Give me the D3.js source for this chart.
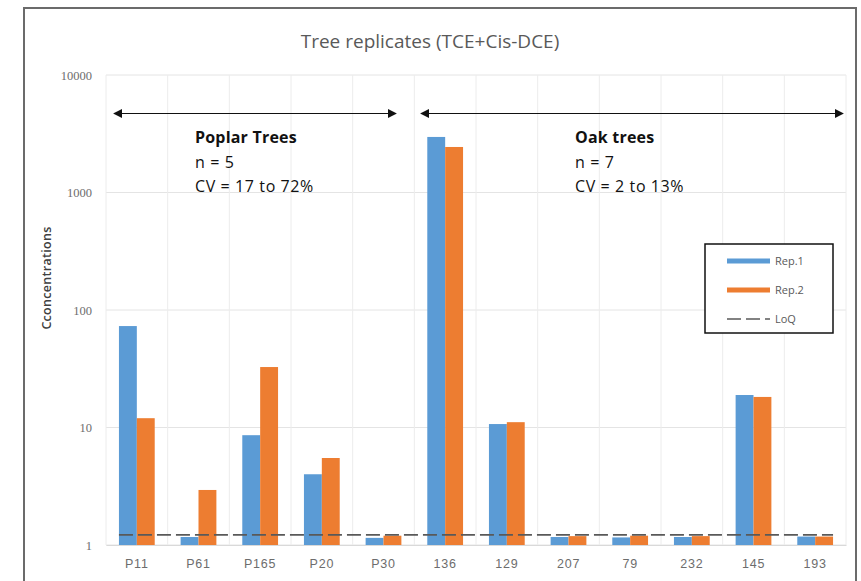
<!DOCTYPE html>
<html><head><meta charset="utf-8">
<script src="https://cdn.jsdelivr.net/npm/d3@7"></script>
<style>body{margin:0;background:#fff;}svg{display:block;font-family:"Open Sans","Liberation Sans",sans-serif;}</style>
</head><body>
<svg id="c" width="861" height="581"></svg>
<script>
const categories = ["P11","P61","P165","P20","P30","136","129","207","79","232","145","193"];
const rep1 = [73, 1.17, 8.6, 4.0, 1.15, 2970, 10.7, 1.17, 1.16, 1.17, 18.9, 1.18];
const rep2 = [12, 2.94, 32.7, 5.5, 1.2, 2440, 11.1, 1.19, 1.2, 1.19, 18.2, 1.18];
const loq = 1.22;
const yTicks = [1, 10, 100, 1000, 10000];
const seriesNames = ["Rep.1", "Rep.2", "LoQ"];
const groups = [
  {from: 0, to: 4, lines: ["Poplar Trees", "n = 5", "CV = 17 to 72%"]},
  {from: 5, to: 11, lines: ["Oak trees", "n = 7", "CV = 2 to 13%"]}
];

const svg = d3.select("#c");
const L = 106, R = 846, T = 75, B = 545;
const blue = "#5B9BD5", orange = "#ED7D31";

svg.append("rect").attr("x", 24).attr("y", 8).attr("width", 832).attr("height", 600)
  .attr("fill", "#fff").attr("stroke", "#6b6b6b").attr("stroke-width", 2);

const x = d3.scaleBand().domain(categories).range([L, R]).paddingInner(0).paddingOuter(0);
const y = d3.scaleLog().domain([1, 10000]).range([B, T]);

// horizontal grid
svg.append("g").selectAll("line").data(yTicks).join("line")
  .attr("x1", L).attr("x2", R).attr("y1", d => y(d)).attr("y2", d => y(d))
  .attr("stroke", "#e4e4e4").attr("stroke-width", 1);
// vertical grid
svg.append("g").selectAll("line").data(d3.range(categories.length + 1)).join("line")
  .attr("x1", i => L + i * x.bandwidth()).attr("x2", i => L + i * x.bandwidth())
  .attr("y1", T).attr("y2", B).attr("stroke", "#ececec").attr("stroke-width", 1);

// y axis
const yAxis = d3.axisLeft(y).tickValues(yTicks).tickFormat(d3.format("d")).tickSize(0).tickPadding(14);
const ya = svg.append("g").attr("transform", `translate(${L},0)`).call(yAxis);
ya.select(".domain").remove();
ya.selectAll("text").attr("fill", "#6d6d6d").style("font-size", "12.5px").style("font-family", "Liberation Serif, serif");

// x axis
const xAxis = d3.axisBottom(x).tickSize(0).tickPadding(14);
const xa = svg.append("g").attr("transform", `translate(0,${B})`).call(xAxis);
xa.select(".domain").attr("stroke", "#d9d9d9");
xa.selectAll("text").attr("fill", "#6d6d6d").style("font-size", "12.5px").style("letter-spacing", "0.8px");

// bars
const bw = x.bandwidth() * 0.29;
const gx = d => x(d) + x.bandwidth() / 2;
svg.append("g").selectAll("rect").data(categories).join("rect")
  .attr("x", d => gx(d) - bw).attr("width", bw)
  .attr("y", (d, i) => y(rep1[i])).attr("height", (d, i) => B - y(rep1[i]))
  .attr("fill", blue);
svg.append("g").selectAll("rect").data(categories).join("rect")
  .attr("x", d => gx(d)).attr("width", bw)
  .attr("y", (d, i) => y(rep2[i])).attr("height", (d, i) => B - y(rep2[i]))
  .attr("fill", orange);

// LoQ line
svg.append("line")
  .attr("x1", gx(categories[0]) - bw).attr("x2", gx(categories[categories.length - 1]) + bw)
  .attr("y1", y(loq)).attr("y2", y(loq))
  .attr("stroke", "#595959").attr("stroke-width", 1.6).attr("stroke-dasharray", "14,5");

// title
svg.append("text").attr("x", 430).attr("y", 48).attr("text-anchor", "middle")
  .attr("fill", "#595959").style("font-size", "19px").style("font-weight", "500").text("Tree replicates (TCE+Cis-DCE)");

// y label
svg.append("text").attr("transform", `translate(51,278) rotate(-90)`)
  .attr("text-anchor", "middle").attr("fill", "#404040").style("font-size", "12.5px").style("font-weight", "600")
  .style("letter-spacing", "0.3px").text("Cconcentrations");

// arrows
const defs = svg.append("defs");
defs.append("marker").attr("id", "ah").attr("viewBox", "0 0 10 10").attr("refX", 9).attr("refY", 5)
  .attr("markerWidth", 9).attr("markerHeight", 9).attr("markerUnits", "userSpaceOnUse").attr("orient", "auto-start-reverse")
  .append("path").attr("d", "M0,0 L10,5 L0,10 z").attr("fill", "#111");
const arrowSpans = [[114, 396], [421, 843]];
groups.forEach((g, k) => {
  const [a, b] = arrowSpans[k];
  svg.append("line").attr("x1", a).attr("x2", b).attr("y1", 113.5).attr("y2", 113.5)
    .attr("stroke", "#111").attr("stroke-width", 1.2)
    .attr("marker-start", "url(#ah)").attr("marker-end", "url(#ah)");
  const tx = k === 0 ? 195 : 575;
  g.lines.forEach((t, j) => {
    svg.append("text").attr("x", tx).attr("y", 143 + j * 24.5)
      .attr("fill", "#111").style("font-size", "16px").style("font-weight", j === 0 ? "700" : "400")
      .style("letter-spacing", j === 0 ? "0.2px" : "0.6px")
      .text(t);
  });
});

// legend
const lg = svg.append("g");
lg.append("rect").attr("x", 705).attr("y", 244).attr("width", 128).attr("height", 89)
  .attr("fill", "#fff").attr("stroke", "#111").attr("stroke-width", 1.5);
const ly = [261, 290, 319];
seriesNames.forEach((s, i) => {
  if (i < 2) {
    lg.append("rect").attr("x", 727).attr("y", ly[i] - 2.5).attr("width", 43).attr("height", 5)
      .attr("fill", i === 0 ? blue : orange);
  } else {
    lg.append("line").attr("x1", 727).attr("x2", 770).attr("y1", ly[i]).attr("y2", ly[i])
      .attr("stroke", "#595959").attr("stroke-width", 1.4).attr("stroke-dasharray", "14,5");
  }
  lg.append("text").attr("x", 775).attr("y", ly[i] + 4).attr("fill", "#595959")
    .style("font-size", "11px").text(s);
});
</script>
</body></html>
